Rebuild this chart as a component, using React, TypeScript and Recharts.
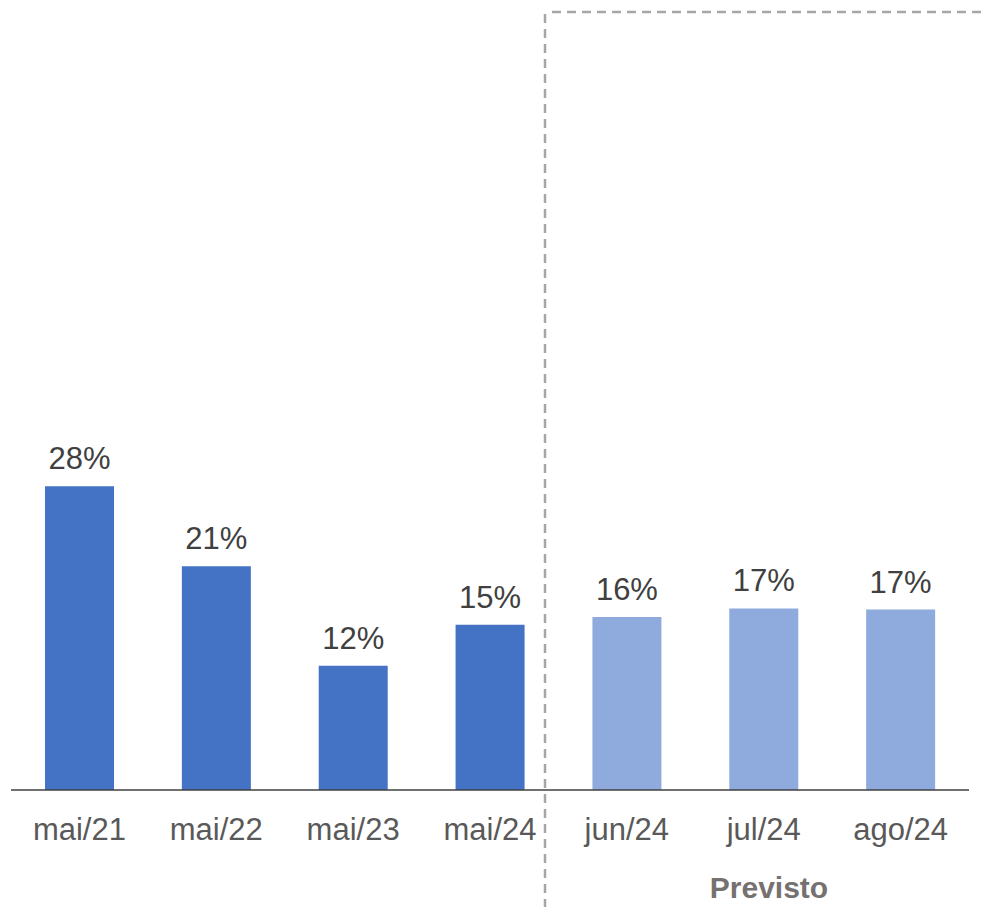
import { BarChart, Bar, XAxis, YAxis, Cell, LabelList } from 'recharts';

// meses e valores (% )
const months = ['mai/21', 'mai/22', 'mai/23', 'mai/24', 'jun/24', 'jul/24', 'ago/24'];
const values = [28.1, 20.7, 11.5, 15.3, 16.0, 16.8, 16.7];
const isForecast = [false, false, false, false, true, true, true];

const data = months.map((month, i) => ({
  month,
  value: values[i],
  forecast: isForecast[i],
}));

const FONT = '"Liberation Sans", Arial, sans-serif';
const ACTUAL_COLOR = '#4472C4';
const FORECAST_COLOR = '#8FAADC';

export default function App() {
  return (
    <div style={{ position: 'absolute', left: 0, top: 0, width: 982, height: 907, fontFamily: FONT }}>
      <BarChart
        width={982}
        height={907}
        data={data}
        margin={{ top: 12, right: 13, left: 11, bottom: 0 }}
      >
        <XAxis
          dataKey="month"
          height={117}
          tickSize={0}
          tickMargin={28}
          axisLine={{ stroke: '#404040', strokeWidth: 1.5 }}
          tick={{ fill: '#595959', fontSize: 31, fontFamily: FONT }}
          interval={0}
        />
        <YAxis hide domain={[0, 72]} />
        <Bar dataKey="value" barSize={69} isAnimationActive={false}>
          {data.map((d) => (
            <Cell key={d.month} fill={d.forecast ? FORECAST_COLOR : ACTUAL_COLOR} />
          ))}
          <LabelList
            dataKey="value"
            position="top"
            offset={17}
            formatter={(v: number) => `${Math.round(v)}%`}
            style={{ fill: '#404040', fontSize: 31, fontFamily: FONT }}
          />
        </Bar>
      </BarChart>

      {/* moldura tracejada da área "Previsto" */}
      <svg
        width={982}
        height={907}
        style={{ position: 'absolute', left: 0, top: 0, pointerEvents: 'none' }}
      >
        <line x1={545} y1={14} x2={545} y2={907} stroke="#a6a6a6" strokeWidth={2.5} strokeDasharray="9 6" />
        <line x1={552} y1={12} x2={982} y2={12} stroke="#a6a6a6" strokeWidth={2.5} strokeDasharray="9 6" />
        <text
          x={769}
          y={898}
          textAnchor="middle"
          fontSize={30}
          fontWeight="bold"
          fill="#767171"
          fontFamily={FONT}
        >
          Previsto
        </text>
      </svg>
    </div>
  );
}
